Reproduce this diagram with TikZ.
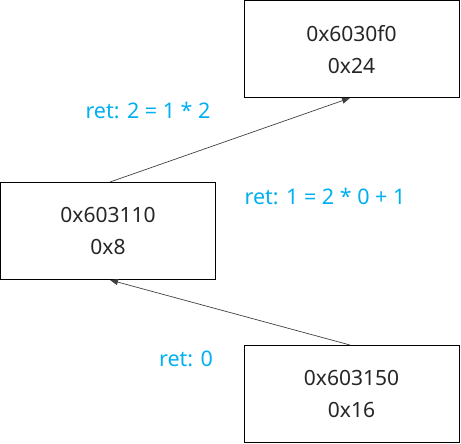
\documentclass[tikz,border=0pt]{standalone}
\usepackage{fontspec}
\setmainfont{Noto Sans}
\usetikzlibrary{arrows.meta}
\definecolor{lbl}{HTML}{00B0F0}
\begin{document}
\begin{tikzpicture}[x=1pt,y=-1pt,
  box/.style={draw=black,line width=1pt,minimum width=215pt,minimum height=97pt,inner sep=0pt,align=center,font=\fontsize{21}{32}\selectfont,text=black!85},
  lab/.style={text=lbl,font=\fontsize{21.5}{24}\selectfont,inner sep=0pt},
  conn/.style={draw=black!75,line width=0.7pt,-{Triangle[length=8pt,width=6pt]}}]
\useasboundingbox (0,0) rectangle (461,444);
\node[box] (t) at (351.5,49.5) {0x6030f0\\0x24};
\node[box] (m) at (108,231) {0x603110\\0x8};
\node[box] (b) at (351.5,393.5) {0x603150\\0x16};
\coordinate (bt) at (350,345);
\coordinate (mb) at (110,280);
\coordinate (mt) at (110,182);
\coordinate (tb) at (350,98);
\draw[conn] (bt) -- (mb);
\draw[conn] (mt) -- (tb);
\node[lab] (l1) at (148,110) {ret: 2 = 1 * 2};
\node[lab] (l2) at (325,196) {ret: 1 = 2 * 0 + 1};
\node[lab] (l3) at (186,359) {ret: 0};
\end{tikzpicture}
\end{document}
